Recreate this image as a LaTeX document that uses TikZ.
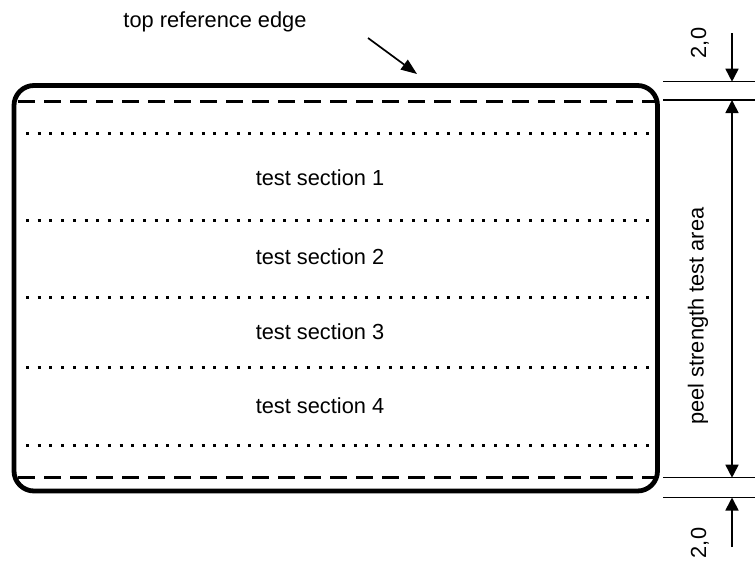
\documentclass[tikz,border=0pt]{standalone}
\usepackage{fontspec}
\setmainfont{Liberation Sans}
\usetikzlibrary{arrows.meta}
\begin{document}
\begin{tikzpicture}[x=1pt,y=-1pt,
  lbl/.style={font=\fontsize{21.8}{26}\selectfont, inner sep=0pt},
  frame/.style={line width=4.8pt, rounded corners=20pt},
  edgeline/.style={line width=3pt, dash pattern=on 17pt off 9pt},
  secline/.style={line width=3pt, dash pattern=on 3pt off 8.7pt},
  dimline/.style={line width=1.3pt},
  dimarrow/.style={line width=1.7pt, -{Triangle[length=13pt,width=13pt]}},
  bothway/.style={line width=1.7pt, {Triangle[length=13pt,width=13pt]}-{Triangle[length=13pt,width=13pt]}},
  pointer/.style={line width=1.7pt, -{Triangle[length=16pt,width=12pt]}},
]
\useasboundingbox (0,0) rectangle (755,563);

% sample outline
\draw[frame] (14,85.5) rectangle (657.5,491);

% top and bottom reference edges
\draw[edgeline] (18,101.7) -- (655,101.7);
\draw[edgeline] (18,477) -- (655,477);

% section boundaries
\foreach \yy in {133,220,297,367,445.7}
  \draw[secline] (26,\yy) -- (655,\yy);

% section labels
\node[lbl] (s1) at (320,178) {test section 1};
\node[lbl] (s2) at (320,257) {test section 2};
\node[lbl] (s3) at (320,332) {test section 3};
\node[lbl] (s4) at (320,406) {test section 4};

% reference edge label and pointer
\node[lbl] (ref) at (215,22) {top reference edge};
\coordinate (refstart) at (368,38);
\coordinate (refend) at (417,74);
\draw[pointer] (refstart) -- (refend);

% extension lines
\coordinate (ta) at (732,81.7);
\coordinate (tb) at (732,100);
\coordinate (ba) at (732,477.7);
\coordinate (bb) at (732,497.5);
\draw[dimline] (663,81.7) -- (755,81.7);
\draw[dimline] (663,100) -- (755,100);
\draw[dimline] (663,477.7) -- (755,477.7);
\draw[dimline] (663,497.5) -- (755,497.5);

% dimension arrows
\coordinate (topfree) at (732,33);
\coordinate (botfree) at (732,547);
\draw[dimarrow] (topfree) -- (ta);
\draw[bothway] (tb) -- (ba);
\draw[dimarrow] (botfree) -- (bb);

% dimension texts
\node[lbl, rotate=90] (d1) at (700,43) {2,0};
\node[lbl, rotate=90] (d2) at (700,543) {2,0};
\node[lbl, rotate=90] (area) at (698,316) {peel strength test area};
\end{tikzpicture}
\end{document}
